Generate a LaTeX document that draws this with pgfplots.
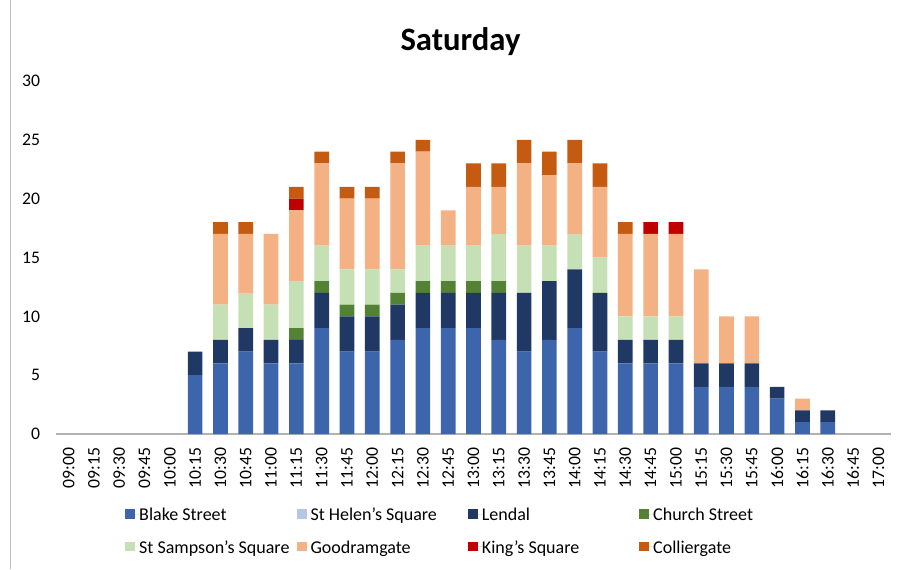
\documentclass[border=0pt]{standalone}
\usepackage{pgfplots}
\usepackage{pgfplotstable}
\usepackage{fontspec}
\setmainfont{Carlito}
\pgfplotsset{compat=1.18}
\definecolor{cBlake}{RGB}{61,101,171}
\definecolor{cHelen}{RGB}{180,199,231}
\definecolor{cLendal}{RGB}{31,56,100}
\definecolor{cChurch}{RGB}{84,130,53}
\definecolor{cSampson}{RGB}{197,224,180}
\definecolor{cGood}{RGB}{244,177,131}
\definecolor{cKing}{RGB}{192,0,0}
\definecolor{cColl}{RGB}{197,90,17}
\pgfplotstableread{
x blake helen lendal church sampson good king coll
0 0 0 0 0 0 0 0 0
1 0 0 0 0 0 0 0 0
2 0 0 0 0 0 0 0 0
3 0 0 0 0 0 0 0 0
4 0 0 0 0 0 0 0 0
5 5 0 2 0 0 0 0 0
6 6 0 2 0 3 6 0 1
7 7 0 2 0 3 5 0 1
8 6 0 2 0 3 6 0 0
9 6 0 2 1 4 6 1 1
10 9 0 3 1 3 7 0 1
11 7 0 3 1 3 6 0 1
12 7 0 3 1 3 6 0 1
13 8 0 3 1 2 9 0 1
14 9 0 3 1 3 8 0 1
15 9 0 3 1 3 3 0 0
16 9 0 3 1 3 5 0 2
17 8 0 4 1 4 4 0 2
18 7 0 5 0 4 7 0 2
19 8 0 5 0 3 6 0 2
20 9 0 5 0 3 6 0 2
21 7 0 5 0 3 6 0 2
22 6 0 2 0 2 7 0 1
23 6 0 2 0 2 7 1 0
24 6 0 2 0 2 7 1 0
25 4 0 2 0 0 8 0 0
26 4 0 2 0 0 4 0 0
27 4 0 2 0 0 4 0 0
28 3 0 1 0 0 0 0 0
29 1 0 1 0 0 1 0 0
30 1 0 1 0 0 0 0 0
31 0 0 0 0 0 0 0 0
32 0 0 0 0 0 0 0 0
}\datatable
\newcommand{\legtxt}[1]{\makebox[118pt][l]{\strut #1}}
\begin{document}
\begin{tikzpicture}
\useasboundingbox (-42pt,-101.25pt) rectangle (633.75pt,325.5pt);
\begin{axis}[
  scale only axis,
  width=626.25pt, height=264.75pt,
  ybar stacked, bar width=11pt,
  xmin=-0.5, xmax=32.5, ymin=0, ymax=30,
  xtick={0,...,32},
  xticklabels={09:00,09:15,09:30,09:45,10:00,10:15,10:30,10:45,11:00,11:15,11:30,11:45,12:00,12:15,12:30,12:45,13:00,13:15,13:30,13:45,14:00,14:15,14:30,14:45,15:00,15:15,15:30,15:45,16:00,16:15,16:30,16:45,17:00},
  ytick={0,5,...,30},
  /pgf/number format/assume math mode=true,
  major tick length=0pt,
  axis x line*=bottom, axis y line*=left,
  x axis line style={draw=black!30, line width=0.8pt},
  y axis line style={draw=none},
  xticklabel style={rotate=90, anchor=east, font=\fontsize{13.25}{16}\selectfont, xshift=-6.75pt},
  yticklabel style={font=\fontsize{13.25}{16}\selectfont, xshift=-8.5pt},
  title={Saturday},
  title style={font=\fontsize{24.5}{29}\selectfont\bfseries, at={(axis description cs:0.4844,1.088)}, anchor=center},
  legend columns=4,
  legend style={at={(axis description cs:0.0826,-0.2023)}, anchor=north west, draw=none, fill=none, inner sep=0pt, row sep=11.5pt, column sep=0pt, font=\fontsize{13.5}{16.2}\selectfont, nodes={inner sep=0pt}},
  legend cell align=left,
  legend image code/.code={\fill[#1,draw=none] (0pt,-3.6pt) rectangle (7.5pt,3.6pt); \path (0pt,0pt) -- (10.5pt,0pt);},
]
\addplot[fill=cBlake, draw=none] table[x=x,y=blake]{\datatable};
\addplot[fill=cHelen, draw=none] table[x=x,y=helen]{\datatable};
\addplot[fill=cLendal, draw=none] table[x=x,y=lendal]{\datatable};
\addplot[fill=cChurch, draw=none] table[x=x,y=church]{\datatable};
\addplot[fill=cSampson, draw=none] table[x=x,y=sampson]{\datatable};
\addplot[fill=cGood, draw=none] table[x=x,y=good]{\datatable};
\addplot[fill=cKing, draw=none] table[x=x,y=king]{\datatable};
\addplot[fill=cColl, draw=none] table[x=x,y=coll]{\datatable};
\legend{\legtxt{Blake Street},\legtxt{St Helen's Square},\legtxt{Lendal},\legtxt{Church Street},\legtxt{St Sampson's Square},\legtxt{Goodramgate},\legtxt{King's Square},\legtxt{Colliergate}}
\end{axis}
\draw[black!25, line width=0.75pt] (-33.75pt,-101.25pt) -- (-33.75pt,325.5pt);
\end{tikzpicture}
\end{document}
